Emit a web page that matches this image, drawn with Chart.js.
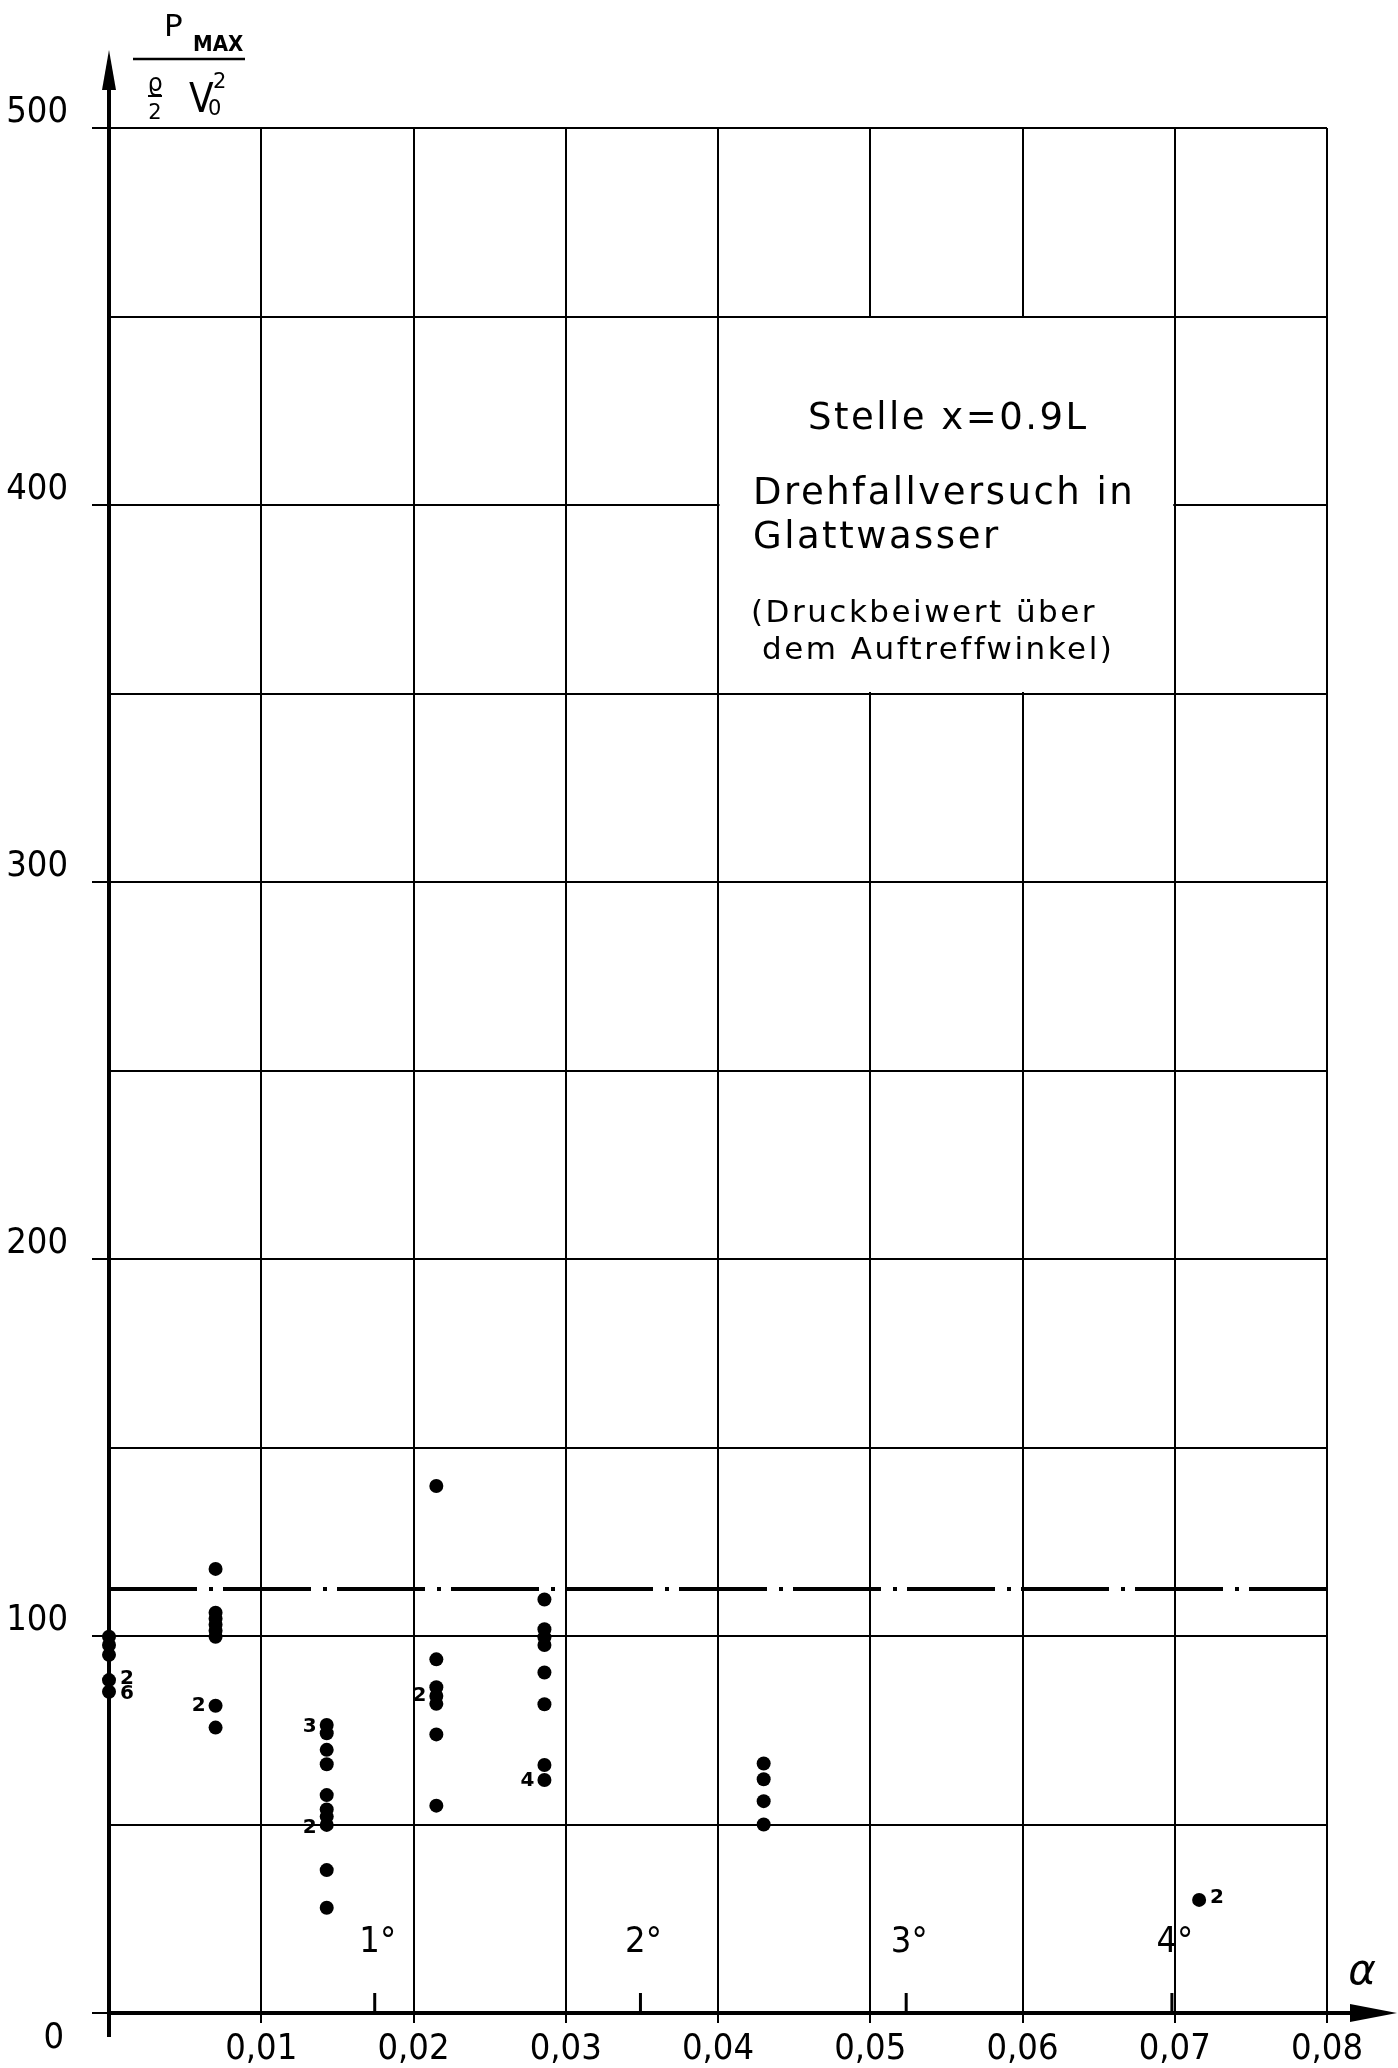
<!DOCTYPE html>
<html>
<head>
<meta charset="utf-8">
<script src="https://cdn.jsdelivr.net/npm/chart.js@4.4.0/dist/chart.umd.min.js"></script>
<style>
  html, body { margin: 0; padding: 0; background: #fff; }
  #wrap { width: 1398px; height: 2068px; }
</style>
</head>
<body>
<div id="wrap"><canvas id="chart" width="1398" height="2068"></canvas></div>
<script>
// impact angle alpha (rad) of each measured column
var columnAlpha = [0, 0.0070, 0.0143, 0.0215, 0.0286, 0.0430, 0.0716];
// p_max / (rho/2 v0^2) per column
var columnValues = [
  [99.8, 97.6, 95.0, 88.3, 85.2],
  [117.8, 106.2, 104.6, 103.0, 101.4, 99.8, 81.5, 75.7],
  [76.4, 74.2, 69.8, 66.0, 57.8, 54.0, 52.1, 49.9, 37.9, 27.9],
  [139.8, 93.8, 86.4, 84.1, 82.0, 73.9, 55.0],
  [109.7, 101.8, 99.7, 97.6, 90.3, 81.9, 65.8, 61.8],
  [66.2, 62.0, 56.2, 50.0],
  [30.0]
];
// how many runs fell on the same point
var countText = ['2', '6', '2', '3', '2', '2', '4', '2'];
var countAlpha = [0, 0, 0.0070, 0.0143, 0.0143, 0.0215, 0.0286, 0.0716];
var countValue = [88.6, 84.8, 81.5, 76.0, 49.0, 84.1, 61.6, 30.5];
var countSide = ['r', 'r', 'l', 'l', 'l', 'l', 'l', 'r'];

var meanLevel = 112.5;
var degreeMarks = [1, 2, 3, 4];
var noteBox = [0.04, 0.07, 350, 450];
var noteLines = ['Stelle x=0.9L', 'Drehfallversuch in', 'Glattwasser', '(Druckbeiwert über', 'dem Auftreffwinkel)'];

var points = [];
columnAlpha.forEach(function (a, i) {
  columnValues[i].forEach(function (v) { points.push({ x: a, y: v }); });
});

var narrow = "'Liberation Sans Narrow', 'DejaVu Sans Condensed', 'Liberation Sans', sans-serif";
var hand = "'DejaVu Sans', sans-serif";

var paperPlugin = {
  id: 'paper',
  beforeDatasetsDraw: function (chart) {
    var ctx = chart.ctx, xs = chart.scales.x, ys = chart.scales.y;
    var l = xs.getPixelForValue(noteBox[0]), r = xs.getPixelForValue(noteBox[1]);
    var t = ys.getPixelForValue(noteBox[3]), b = ys.getPixelForValue(noteBox[2]);
    ctx.save();
    ctx.fillStyle = '#fff';
    ctx.fillRect(l + 1.5, t + 1.5, r - l - 3, b - t - 3);
    ctx.fillStyle = '#000';
    ctx.textBaseline = 'middle';
    ctx.letterSpacing = '2.5px';
    ctx.font = '37px ' + hand;
    ctx.textAlign = 'center';
    ctx.fillText(noteLines[0], (l + r) / 2 + 2, t + 103);
    ctx.textAlign = 'left';
    ctx.fillText(noteLines[1], l + 35, t + 178);
    ctx.fillText(noteLines[2], l + 35, t + 222);
    ctx.font = '31px ' + hand;
    ctx.fillText(noteLines[3], l + 33, t + 297);
    ctx.fillText(noteLines[4], l + 44, t + 334);
    ctx.restore();
  },
  afterDraw: function (chart) {
    var ctx = chart.ctx, xs = chart.scales.x, ys = chart.scales.y;
    var a = chart.chartArea;
    ctx.save();
    ctx.fillStyle = '#000';
    ctx.strokeStyle = '#000';
    ctx.lineCap = 'butt';

    // y axis arrow
    ctx.lineWidth = 4;
    ctx.beginPath();
    ctx.moveTo(a.left, a.top);
    ctx.lineTo(a.left, 80);
    ctx.moveTo(a.left, a.bottom);
    ctx.lineTo(a.left, a.bottom + 24);
    ctx.stroke();
    ctx.beginPath();
    ctx.moveTo(a.left, 50);
    ctx.lineTo(a.left - 7, 90);
    ctx.lineTo(a.left + 7, 90);
    ctx.closePath();
    ctx.fill();

    // x axis arrow
    ctx.beginPath();
    ctx.moveTo(a.right, a.bottom);
    ctx.lineTo(1360, a.bottom);
    ctx.stroke();
    ctx.beginPath();
    ctx.moveTo(1397, a.bottom);
    ctx.lineTo(1350, a.bottom - 9);
    ctx.lineTo(1350, a.bottom + 9);
    ctx.closePath();
    ctx.fill();

    // degree marks on the alpha axis
    ctx.lineWidth = 3;
    ctx.font = '36px ' + narrow;
    ctx.textAlign = 'center';
    ctx.textBaseline = 'middle';
    degreeMarks.forEach(function (d) {
      var px = xs.getPixelForValue(d * Math.PI / 180);
      ctx.beginPath();
      ctx.moveTo(px, a.bottom);
      ctx.lineTo(px, a.bottom - 20);
      ctx.stroke();
      ctx.fillText(d + '°', px + 3, a.bottom - 70);
    });

    // zero label sits below the axis
    ctx.textAlign = 'right';
    ctx.fillText('0', 64, a.bottom + 26);

    // alpha label
    ctx.font = 'italic 42px ' + hand;
    ctx.textAlign = 'center';
    ctx.fillText('α', 1362, a.bottom - 40);

    // count labels next to points
    ctx.font = 'bold 20px ' + hand;
    countText.forEach(function (t, i) {
      var px = xs.getPixelForValue(countAlpha[i]);
      var py = ys.getPixelForValue(countValue[i]);
      if (countSide[i] === 'r') {
        ctx.textAlign = 'left';
        ctx.fillText(t, px + 11, py);
      } else {
        ctx.textAlign = 'right';
        ctx.fillText(t, px - 10, py);
      }
    });

    // y axis title: p_max / (rho/2 v0^2)
    ctx.textAlign = 'left';
    ctx.textBaseline = 'alphabetic';
    ctx.font = '31px ' + hand;
    ctx.fillText('P', 164, 36);
    ctx.font = 'bold 22px ' + narrow;
    ctx.fillText('MAX', 193, 51);
    ctx.lineWidth = 2.5;
    ctx.beginPath();
    ctx.moveTo(133, 59);
    ctx.lineTo(245, 59);
    ctx.stroke();
    ctx.font = '24px ' + hand;
    ctx.textAlign = 'center';
    ctx.fillText('ϱ', 155, 91);
    ctx.lineWidth = 2;
    ctx.beginPath();
    ctx.moveTo(148, 96);
    ctx.lineTo(162, 96);
    ctx.stroke();
    ctx.font = '21px ' + hand;
    ctx.fillText('2', 155, 119);
    ctx.textAlign = 'left';
    ctx.font = '40px ' + narrow;
    ctx.fillText('V', 189, 112);
    ctx.font = '21px ' + hand;
    ctx.fillText('2', 213, 88);
    ctx.fillText('0', 208, 115);
    ctx.restore();
  }
};

new Chart(document.getElementById('chart'), {
  type: 'scatter',
  data: {
    datasets: [
      {
        data: points,
        pointRadius: 7,
        pointBackgroundColor: '#000',
        pointBorderWidth: 0,
        showLine: false,
        clip: false
      },
      {
        type: 'line',
        data: [{ x: 0, y: meanLevel }, { x: 0.08, y: meanLevel }],
        borderColor: '#000',
        borderWidth: 4,
        borderDash: [88, 12, 4, 10],
        pointRadius: 0,
        fill: false
      }
    ]
  },
  options: {
    responsive: false,
    animation: false,
    layout: { padding: { top: 128, right: 71, left: 0, bottom: 0 } },
    plugins: { legend: { display: false }, tooltip: { enabled: false } },
    scales: {
      x: {
        type: 'linear',
        min: 0,
        max: 0.08,
        afterFit: function (s) { s.height = 55; },
        ticks: {
          stepSize: 0.01,
          autoSkip: false,
          maxRotation: 0,
          padding: 5,
          color: '#000',
          font: { family: narrow, size: 36 },
          callback: function (v) { return v === 0 ? '' : v.toFixed(2).replace('.', ','); }
        },
        grid: { color: '#000', lineWidth: 2, tickLength: 10 },
        border: { color: '#000', width: 4 }
      },
      y: {
        min: 0,
        max: 500,
        afterFit: function (s) { s.width = 109; },
        ticks: {
          stepSize: 50,
          padding: 24,
          labelOffset: -15,
          color: '#000',
          font: { family: narrow, size: 36 },
          callback: function (v) { return (v > 0 && v % 100 === 0) ? String(v) : ''; }
        },
        grid: {
          color: '#000',
          lineWidth: 2,
          tickLength: 17,
          tickColor: function (c) { return (c.tick && c.tick.value % 100 === 0) ? '#000' : 'rgba(0,0,0,0)'; }
        },
        border: { color: '#000', width: 4 }
      }
    }
  },
  plugins: [paperPlugin]
});
</script>
</body>
</html>
